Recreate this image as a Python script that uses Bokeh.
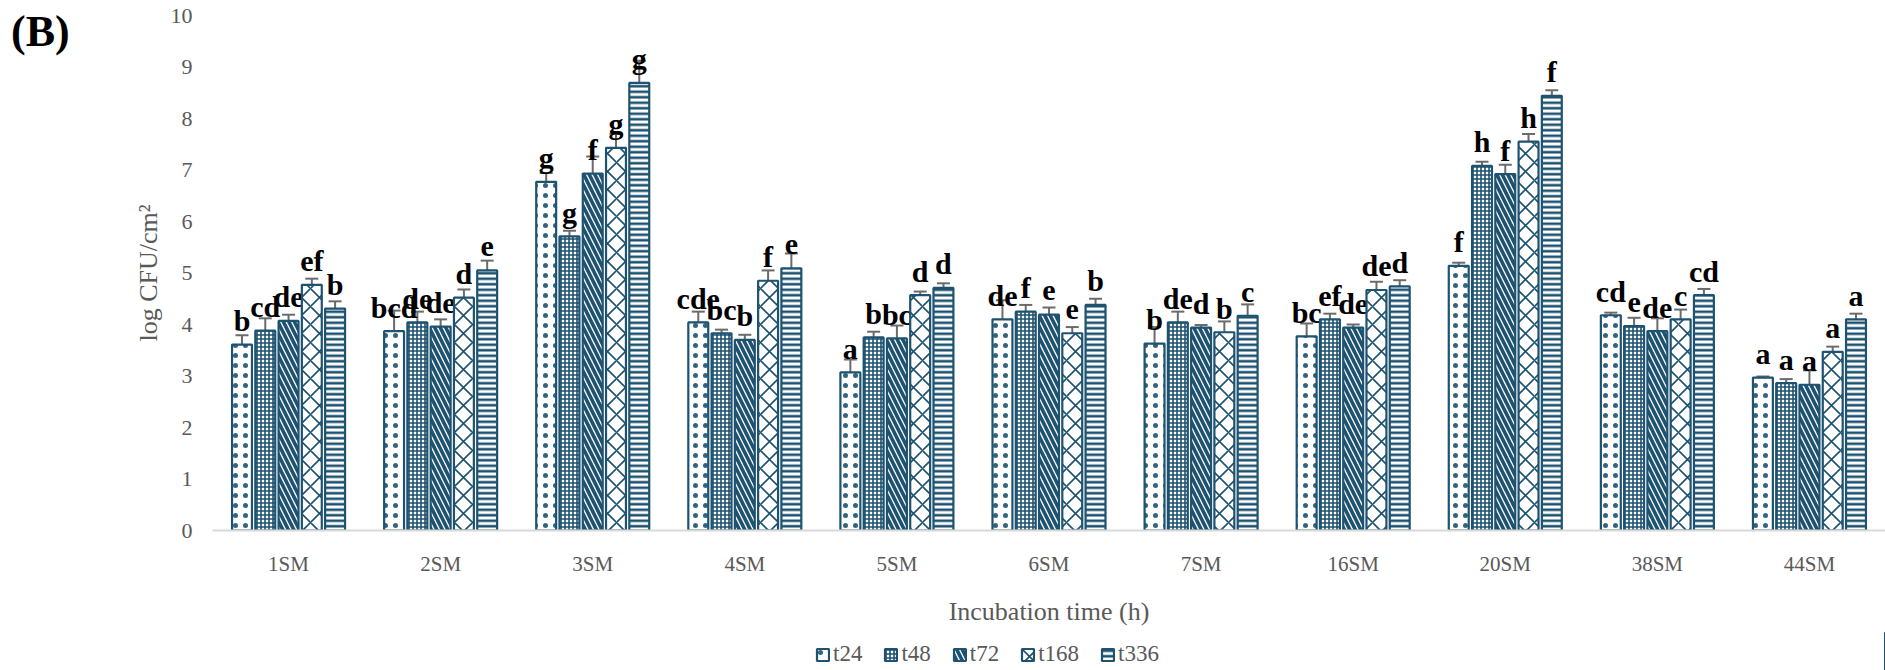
from bokeh.plotting import figure
from bokeh.models import (ColumnDataSource, FactorRange, Whisker, TeeHead,
                          Legend, LegendItem, Div)
from bokeh.layouts import row, column
from bokeh.transform import dodge
from bokeh.core.properties import value
from bokeh.embed import file_html
from bokeh.resources import INLINE

# Sampling sites
cats = ["1SM", "2SM", "3SM", "4SM", "5SM", "6SM", "7SM", "16SM", "20SM", "38SM", "44SM"]

# Mean log CFU/cm2 per incubation time, with standard deviations
t24 = [3.61, 3.87, 6.77, 4.04, 3.07, 4.10, 3.63, 3.77, 5.14, 4.18, 2.97]
t24_err = [0.18, 0.40, 0.17, 0.21, 0.25, 0.37, 0.32, 0.25, 0.06, 0.05, 0.02]
t48 = [3.88, 4.04, 5.71, 3.83, 3.75, 4.25, 4.04, 4.10, 7.08, 3.97, 2.86]
t48_err = [0.24, 0.21, 0.11, 0.07, 0.11, 0.13, 0.21, 0.11, 0.08, 0.16, 0.08]
t72 = [4.07, 3.96, 6.93, 3.70, 3.73, 4.19, 3.94, 3.94, 6.92, 3.87, 2.83]
t72_err = [0.12, 0.14, 0.33, 0.10, 0.25, 0.14, 0.05, 0.06, 0.18, 0.25, 0.28]
t168 = [4.77, 4.52, 7.43, 4.85, 4.57, 3.83, 3.85, 4.67, 7.55, 4.10, 3.47]
t168_err = [0.12, 0.16, 0.27, 0.20, 0.07, 0.12, 0.21, 0.16, 0.15, 0.19, 0.10]
t336 = [4.31, 5.05, 8.69, 5.09, 4.71, 4.38, 4.17, 4.74, 8.44, 4.57, 4.10]
t336_err = [0.14, 0.19, 0.43, 0.29, 0.09, 0.12, 0.22, 0.12, 0.11, 0.12, 0.11]

# Significance letters
t24_lbl = ["b", "bcd", "g", "cde", "a", "de", "b", "bc", "f", "cd", "a"]
t48_lbl = ["cd", "de", "g", "bc", "b", "f", "de", "ef", "h", "e", "a"]
t72_lbl = ["de", "de", "f", "b", "bc", "e", "d", "de", "f", "de", "a"]
t168_lbl = ["ef", "d", "g", "f", "d", "e", "b", "de", "h", "c", "a"]
t336_lbl = ["b", "e", "g", "e", "d", "b", "c", "d", "f", "cd", "a"]

series_names = ["t24", "t48", "t72", "t168", "t336"]
series_vals = [t24, t48, t72, t168, t336]
series_errs = [t24_err, t48_err, t72_err, t168_err, t336_err]
series_lbls = [t24_lbl, t48_lbl, t72_lbl, t168_lbl, t336_lbl]

BLUE = "#1d5270"
GREY_TXT = "#595959"
SERIF = "Liberation Serif"

# hatch pattern, scale, weight, alpha per series
hatches = [
    ("dot", 10, 0.1, 0.9),
    ("cross", 4, 1.6, 1.0),
    ("left_diagonal_line", 11, 3.6, 1.0),
    ("diagonal_cross", 18, 1.6, 1.0),
    ("horizontal_line", 5.5, 2.6, 1.0),
]

def bar_style(hp, hs, hw, ha):
    return dict(fill_color="white", line_color=BLUE, line_width=2.2,
                hatch_pattern=hp, hatch_scale=hs, hatch_weight=hw,
                hatch_alpha=ha, hatch_color=BLUE)

# ---- main chart -------------------------------------------------------
p = figure(
    width=1755, height=632,
    x_range=FactorRange(factors=cats, range_padding=0, factor_padding=0),
    y_range=(0, 10),
    output_backend="svg", toolbar_location=None,
    min_border_left=82, min_border_right=0,
    min_border_top=15, min_border_bottom=102,
)
p.outline_line_color = None
p.xgrid.grid_line_color = None
p.ygrid.grid_line_color = None

pitch = 0.153
bar_w = 0.131
offsets = [-2 * pitch, -pitch, 0.0, pitch, 2 * pitch]

for name, vals, errs, lbls, off, hatch in zip(
        series_names, series_vals, series_errs, series_lbls, offsets, hatches):
    src = ColumnDataSource(dict(
        cat=cats, val=vals,
        upper=[v + e for v, e in zip(vals, errs)],
        lower=[v - e for v, e in zip(vals, errs)],
        lbl=lbls,
    ))
    p.vbar(x=dodge("cat", off, range=p.x_range), top="val", bottom=0,
           width=bar_w, source=src, **bar_style(*hatch))
    p.add_layout(Whisker(
        base=dodge("cat", off, range=p.x_range), upper="upper", lower="lower",
        source=src, line_color="#6b6b6b", line_width=2,
        upper_head=TeeHead(size=13, line_color="#6b6b6b", line_width=2),
        lower_head=TeeHead(size=13, line_color="#6b6b6b", line_width=2),
    ))
    p.text(x=dodge("cat", off, range=p.x_range), y="val", text="lbl", source=src,
           text_font=value(SERIF), text_font_style="bold", text_font_size="30px",
           text_align="center", text_baseline="alphabetic", y_offset=-24,
           text_color="black")

p.xaxis.axis_line_color = "#d9d9d9"
p.xaxis.axis_line_width = 2
p.xaxis.major_tick_line_color = None
p.xaxis.minor_tick_line_color = None
p.xaxis.major_label_text_font = SERIF
p.xaxis.major_label_text_font_size = "21px"
p.xaxis.major_label_text_color = GREY_TXT
p.xaxis.major_label_standoff = 15
p.xaxis.axis_label = "Incubation time (h)"
p.xaxis.axis_label_text_font = SERIF
p.xaxis.axis_label_text_font_size = "26px"
p.xaxis.axis_label_text_font_style = "normal"
p.xaxis.axis_label_text_color = GREY_TXT
p.xaxis.axis_label_standoff = 18

p.yaxis.axis_line_color = None
p.yaxis.major_tick_line_color = None
p.yaxis.minor_tick_line_color = None
p.yaxis.ticker = list(range(0, 11))
p.yaxis.major_label_text_font = SERIF
p.yaxis.major_label_text_font_size = "22px"
p.yaxis.major_label_text_color = GREY_TXT
p.yaxis.major_label_standoff = 14
p.yaxis.axis_label = "log CFU/cm²"
p.yaxis.axis_label_text_font = SERIF
p.yaxis.axis_label_text_font_size = "26px"
p.yaxis.axis_label_text_font_style = "normal"
p.yaxis.axis_label_text_color = GREY_TXT
p.yaxis.axis_label_standoff = 5

# ---- panel tag ----------------------------------------------------------
panel_tag = Div(
    text="(B)", width=130, height=632, margin=0,
    styles={"font-family": SERIF, "font-weight": "bold", "font-size": "44px",
            "color": "black", "padding-left": "11px", "padding-top": "10px",
            "line-height": "1"},
)

# ---- legend strip -------------------------------------------------------
leg = figure(
    width=1885, height=38, x_range=(0, 1), y_range=(0, 1),
    output_backend="svg", toolbar_location=None,
    x_axis_location=None, y_axis_location=None, min_border=0,
)
leg.outline_line_color = None
leg.xgrid.grid_line_color = None
leg.ygrid.grid_line_color = None

items = []
for name, hatch in zip(series_names, hatches):
    # one swatch bar parked outside the visible range; only its legend entry shows
    r = leg.vbar(x=[5], top=[1], bottom=0, width=0.1, **bar_style(*hatch))
    items.append(LegendItem(label=name, renderers=[r]))

legend = Legend(
    items=items, orientation="horizontal", location=(815, 3),
    glyph_width=15, glyph_height=15, label_standoff=3, spacing=21,
    padding=0, margin=0, border_line_color=None, background_fill_alpha=0,
    label_text_font=SERIF, label_text_font_size="23px",
    label_text_color=GREY_TXT,
)
leg.add_layout(legend)

layout = column(row(panel_tag, p, spacing=0), leg, spacing=0)

open("out.html", "w").write(file_html(layout, INLINE))
